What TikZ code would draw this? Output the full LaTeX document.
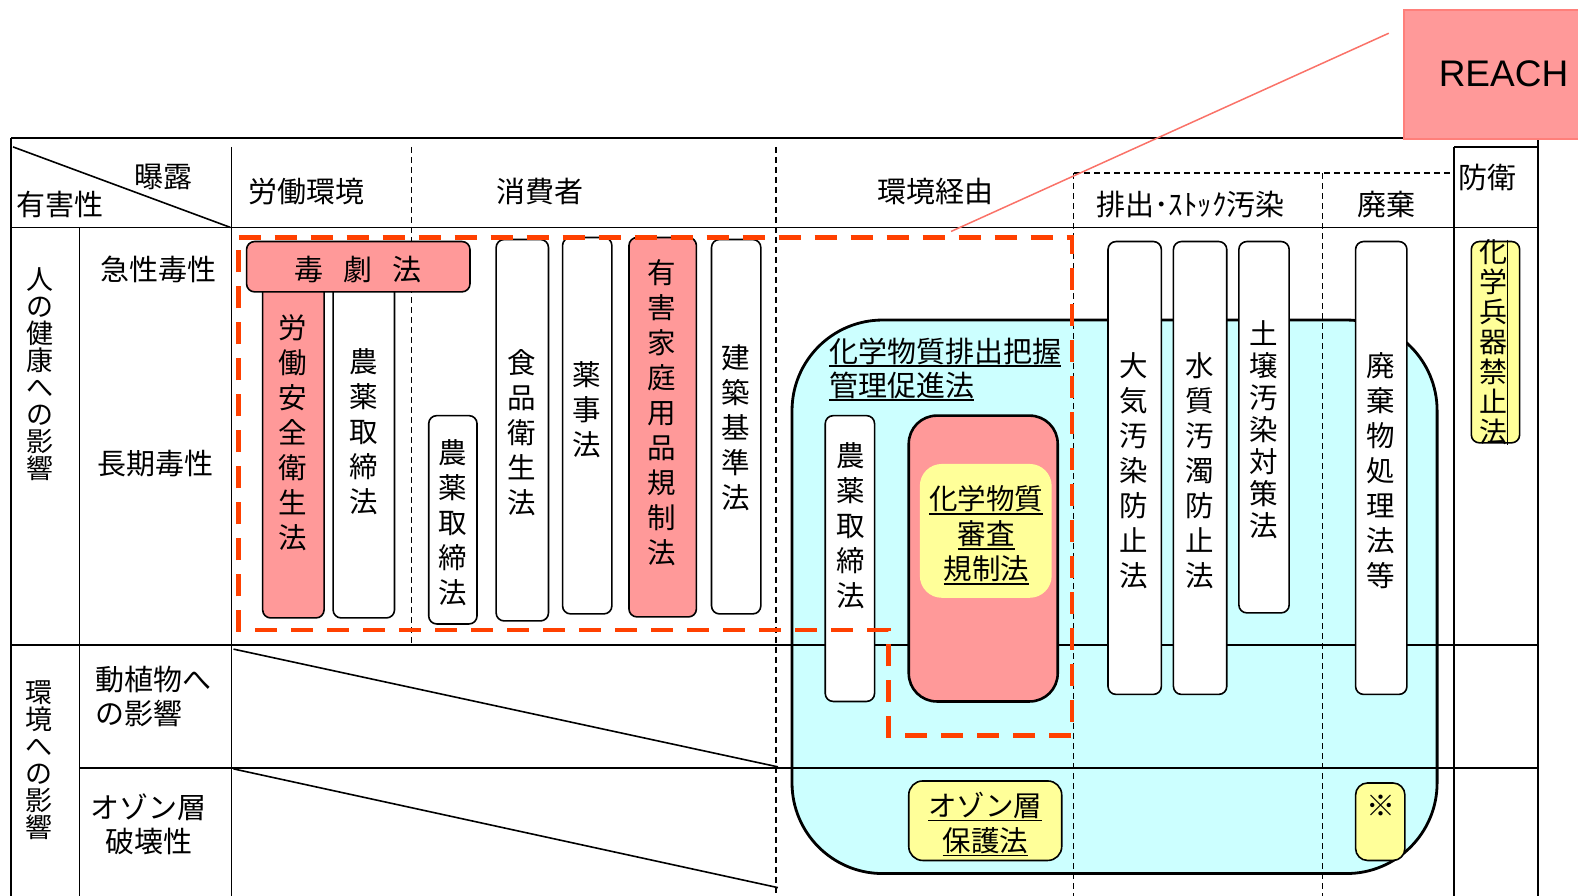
\documentclass[tikz,border=0pt]{standalone}
\usepackage{fontspec}
\setmainfont{Noto Sans CJK JP}
\newfontfamily\arialf{Liberation Sans}
\definecolor{pinkc}{HTML}{FF9999}
\definecolor{cyanc}{HTML}{CCFFFF}
\definecolor{yelc}{HTML}{FFFF99}
\definecolor{redd}{HTML}{FF4000}
\definecolor{salm}{HTML}{FA7268}
\definecolor{salmb}{HTML}{FF7F7A}
\newcommand{\myul}[1]{\leavevmode\setbox0=\hbox{#1}\rlap{\rule[-5pt]{\wd0}{1.8pt}}\box0}
\begin{document}
\begin{tikzpicture}[x=1.00638pt,y=-1.00638pt,
  tline/.style={line width=1.8pt, draw=black},
  dline/.style={line width=1.2pt, draw=black, dash pattern=on 6pt off 4pt},
  lawbox/.style={draw=black, line width=1.6pt, rounded corners=8pt, fill=white},
  pinkbox/.style={lawbox, fill=pinkc},
  yelbox/.style={lawbox, fill=yelc},
  hdr/.style={font=\fontsize{29}{34}\selectfont, inner sep=0pt},
  vtxt/.style={font=\fontsize{28.5}{35}\selectfont, align=center, inner sep=0pt},
  vlab/.style={font=\fontsize{27}{27}\selectfont, align=center, inner sep=0pt},
  reddash/.style={draw=redd, line width=4.5pt, dash pattern=on 22pt off 14pt}]
\useasboundingbox (0,0) rectangle (1568,890);

% light blue region
\draw[fill=cyanc, line width=2.8pt, rounded corners=90.6pt] (787,318) rectangle (1428,868);

% table lines
\draw[tline] (11,137) -- (1400,137);
\draw[tline] (11,137) -- (11,890);
\draw[tline] (1528,137) -- (1528,890);
\draw[tline] (11,226) -- (1528,226);
\draw[tline] (11,641) -- (1528,641);
\draw[tline] (79,763) -- (1528,763);
\draw[tline] (79,226) -- (79,890);
\draw[tline] (230,146) -- (230,890);
\draw[tline] (1445,146) -- (1445,890);
\draw[tline] (1445,146) -- (1528,146);
\draw[line width=1.6pt] (13,146) -- (229,226);
\draw[line width=1.6pt] (232,645) -- (773,762);
\draw[line width=1.6pt] (232,764) -- (773,882);
\draw[dline] (409,146) -- (409,641);
\draw[dline] (771,146) -- (771,890);
\draw[dline] (1067,172) -- (1067,890);
\draw[dline] (1314,172) -- (1314,890);
\draw[dline] (1067,172) -- (1445,172);

% header texts
\node[hdr] (hbakuro) at (162,176) {曝露};
\node[hdr] (hyugai) at (60,203) {有害性};
\node[hdr] (hroudou) at (305,190) {労働環境};
\node[hdr] (hshohi) at (537,190) {消費者};
\node[hdr] (hkankyo) at (930,190) {環境経由};
\node[hdr] (hhaishutsu) at (1183,203) {排出･ｽﾄｯｸ汚染};
\node[hdr] (hhaiki) at (1378,203) {廃棄};
\node[hdr] (hboei) at (1478,176) {防衛};

% row labels
\node[vlab] (lhito) at (40,372) {人\\の\\健\\康\\へ\\の\\影\\響};
\node[vlab] (lkankyo) at (39,755) {環\\境\\へ\\の\\影\\響};
\node[hdr] (lkyusei) at (157,268) {急性毒性};
\node[hdr] (lchoki) at (155,461) {長期毒性};
\node[hdr, align=left, anchor=west] (ldoshoku) at (95,692) {動植物へ\\の影響};
\node[hdr, align=center] (lozone) at (148,819) {オゾン層\\破壊性};

% laws: labour / consumer
\path[pinkbox] (261,280) rectangle (322,614);
\node[vtxt] (anzen) at (291,430) {労\\働\\安\\全\\衛\\生\\法};
\path[lawbox] (331,280) rectangle (392,614);
\node[vtxt] (noyakuA) at (361,429) {農\\薬\\取\\締\\法};
\path[pinkbox] (245,240) rectangle (467,290);
\node[hdr] (dokugeki) at (356,268) {毒\hspace{20pt}劇\hspace{20pt}法};
\path[lawbox] (426,413) rectangle (474,620);
\node[vtxt] (noyakuB) at (450,519) {農\\薬\\取\\締\\法};
\path[lawbox] (493,238) rectangle (545,617);
\node[vtxt] (shokuhin) at (518,430) {食\\品\\衛\\生\\法};
\path[lawbox] (559,236) rectangle (608,610);
\node[vtxt] (yakuji) at (583,407) {薬\\事\\法};
\path[pinkbox] (625,236) rectangle (692,613);
\node[vtxt] (katei) at (658,410) {有\\害\\家\\庭\\用\\品\\規\\制\\法};
\path[lawbox] (707,238) rectangle (756,610);
\node[vtxt] (kenchiku) at (731,425) {建\\築\\基\\準\\法};

% environment
\node[hdr, align=left, anchor=west] (prtr) at (824,367) {\myul{化学物質排出把握}\\\myul{管理促進法}};
\path[lawbox] (820,413) rectangle (869,697);
\node[vtxt] (noyakuC) at (845,522) {農\\薬\\取\\締\\法};
\path[draw=black, fill=pinkc, line width=2.6pt, rounded corners=28pt] (903,413) rectangle (1051,697);
\path[fill=yelc, rounded corners=22pt] (914,461) rectangle (1045,594);
\node[vtxt] (kashin) at (980,532) {\myul{化学物質}\\\myul{審査}\\\myul{規制法}};
\path[lawbox] (1101,240) rectangle (1154,690);
\node[vtxt] (taiki) at (1127,468) {大\\気\\汚\\染\\防\\止\\法};
\path[lawbox] (1166,240) rectangle (1219,690);
\node[vtxt] (suishitsu) at (1192,468) {水\\質\\汚\\濁\\防\\止\\法};
\path[lawbox] (1231,240) rectangle (1281,609);
\node[vtxt, font=\fontsize{28.5}{32}\selectfont] (dojo) at (1256,427) {土\\壌\\汚\\染\\対\\策\\法};
\path[lawbox] (1347,240) rectangle (1398,690);
\node[vtxt] (haikibutsu) at (1372,468) {廃\\棄\\物\\処\\理\\法\\等};
\path[yelbox] (1462,240) rectangle (1510,440);
\node[vtxt, font=\fontsize{28}{30}\selectfont] (heiki) at (1484,340) {化\\学\\兵\\器\\禁\\止\\法};
\draw[line width=1.5pt] (1498,238) -- (1498,442);
\path[yelbox, rounded corners=14pt] (903,776) rectangle (1055,855);
\node[vtxt] (ozone) at (979,819) {\myul{オゾン層}\\\myul{保護法}};
\path[yelbox, rounded corners=12pt] (1347,778) rectangle (1396,855);
\node[hdr] (kome) at (1372,801) {※};

% red dashed outline
\draw[reddash] (237,236) -- (1065,236) -- (1065,731) -- (883,731) -- (883,626) -- (237,626) -- cycle;

% REACH
\coordinate (reachend) at (1380,33);
\coordinate (redtop) at (945,230);
\draw[salm, line width=1.5pt] (reachend) -- (redtop);
\path[fill=pinkc, draw=salmb, line width=1.5pt] (1395,10) rectangle (1585,138);
\node[font=\arialf\fontsize{37}{40}\selectfont, inner sep=0pt] (reach) at (1494,73) {REACH};
\end{tikzpicture}
\end{document}
